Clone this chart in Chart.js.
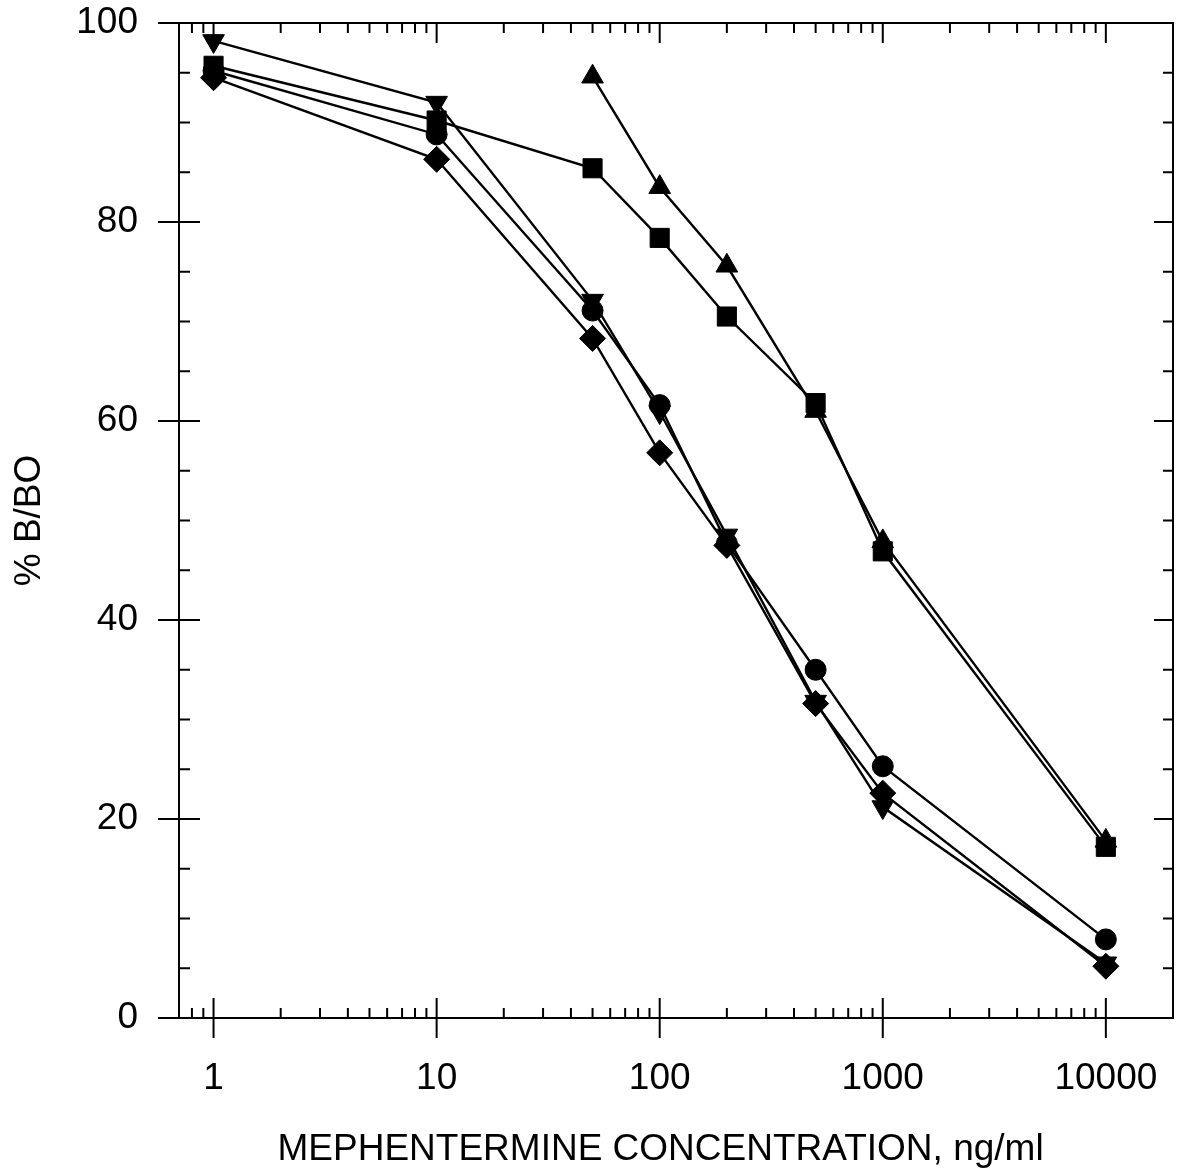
<!DOCTYPE html>
<html>
<head>
<meta charset="utf-8">
<script src="https://cdn.jsdelivr.net/npm/chart.js@4"></script>
<style>body{margin:0;background:#fff}</style>
</head>
<body>
<canvas id="chart" width="1177" height="1172"></canvas>
<script>
// concentration (ng/ml) and % B/BO per marker series
const concentrations = [1, 10, 50, 100, 200, 500, 1000, 10000];
const downTriangles = [98.2, 92.0, 72.1, 60.9, 48.5, 31.8, 21.2, 5.5];
const circles = [95.2, 88.8, 71.1, 61.6, 47.7, 35.0, 25.3, 7.9];
const squares = [95.7, 90.2, 85.4, 78.4, 70.5, 61.8, 46.9, 17.2];
const upTriangles = [null, null, 94.6, 83.5, 75.6, 61.0, 47.9, 17.8];
const diamonds = [94.5, 86.3, 68.3, 56.8, 47.5, 31.6, 22.6, 5.2];

const xTickLabels = [1, 10, 100, 1000, 10000];
const yTickLabels = [0, 20, 40, 60, 80, 100];

const xMin = 0.7, xMax = 20000;
const xMinorTicks = [];
[0.1, 1, 10, 100, 1000].forEach(d => {
  for (let k = 2; k <= 9; k++) {
    const v = d * k;
    if (v > xMin && v < 10000) xMinorTicks.push(v);
  }
});
const yMinorTicks = [];
for (let v = 5; v < 100; v += 5) if (v % 20) yMinorTicks.push(v);

const toPoints = vals => concentrations
  .map((c, i) => ({ x: c, y: vals[i] }))
  .filter(p => p.y !== null);

const series = (values, style, radius, rotation) => ({
  data: toPoints(values),
  borderColor: '#000',
  borderWidth: 2.4,
  pointStyle: style,
  pointRadius: radius,
  pointRotation: rotation || 0,
  pointBackgroundColor: '#000',
  pointBorderColor: '#000',
  pointBorderWidth: 1,
  tension: 0
});

// box frame with inside/outside tick marks, placed via the chart scales
const frameTicks = {
  id: 'frameTicks',
  afterDraw(chart) {
    const { ctx, chartArea: a, scales: { x, y } } = chart;
    ctx.save();
    ctx.strokeStyle = '#000';
    ctx.lineWidth = 2;
    ctx.strokeRect(a.left, a.top, a.right - a.left, a.bottom - a.top);
    ctx.beginPath();
    xMinorTicks.forEach(v => {
      const px = x.getPixelForValue(v);
      ctx.moveTo(px, a.bottom); ctx.lineTo(px, a.bottom - 10);
      ctx.moveTo(px, a.top); ctx.lineTo(px, a.top + 10);
    });
    xTickLabels.forEach(v => {
      const px = x.getPixelForValue(v);
      ctx.moveTo(px, a.bottom + 20); ctx.lineTo(px, a.bottom - 20);
      ctx.moveTo(px, a.top); ctx.lineTo(px, a.top + 20);
    });
    yMinorTicks.forEach(v => {
      const py = y.getPixelForValue(v);
      ctx.moveTo(a.left, py); ctx.lineTo(a.left + 11, py);
      ctx.moveTo(a.right, py); ctx.lineTo(a.right - 10, py);
    });
    yTickLabels.forEach(v => {
      const py = y.getPixelForValue(v);
      ctx.moveTo(a.left - 21, py); ctx.lineTo(a.left + 21, py);
      ctx.moveTo(a.right, py); ctx.lineTo(a.right - 19, py);
    });
    ctx.stroke();
    ctx.restore();
  }
};

Chart.defaults.font.family = '"Liberation Sans", Arial, sans-serif';
Chart.defaults.color = '#000';

new Chart(document.getElementById('chart'), {
  type: 'line',
  data: {
    datasets: [
      series(squares, 'rect', 13.5),
      series(upTriangles, 'triangle', 12.5),
      series(circles, 'circle', 10.5),
      series(downTriangles, 'triangle', 12.5, 180),
      series(diamonds, 'rectRot', 13)
    ]
  },
  options: {
    responsive: false,
    animation: false,
    events: [],
    layout: { autoPadding: false, padding: { top: 23, right: 4, left: 0, bottom: 0 } },
    plugins: { legend: { display: false }, tooltip: { enabled: false } },
    scales: {
      x: {
        type: 'logarithmic',
        min: xMin,
        max: xMax,
        grid: { display: false, drawTicks: false },
        border: { display: false },
        afterBuildTicks: s => { s.ticks = xTickLabels.map(v => ({ value: v })); },
        afterFit: s => { s.height = 154; s.paddingLeft = 0; s.paddingRight = 0; },
        ticks: {
          autoSkip: false,
          maxRotation: 0,
          padding: 39,
          font: { size: 37 },
          callback: v => String(v)
        },
        title: {
          display: true,
          text: 'MEPHENTERMINE CONCENTRATION, ng/ml\u00a0\u00a0\u00a0',
          font: { size: 37 },
          padding: { top: 4, bottom: 0 }
        }
      },
      y: {
        min: 0,
        max: 100,
        grid: { display: false, drawTicks: false },
        border: { display: false },
        afterBuildTicks: s => { s.ticks = yTickLabels.map(v => ({ value: v })); },
        afterFit: s => { s.width = 179; s.paddingTop = 0; s.paddingBottom = 0; },
        ticks: { padding: 41, font: { size: 37 } },
        title: {
          display: true,
          text: '% B/BO',
          font: { size: 37 },
          padding: { top: 8, bottom: 0 }
        }
      }
    }
  },
  plugins: [frameTicks]
});
</script>
</body>
</html>
